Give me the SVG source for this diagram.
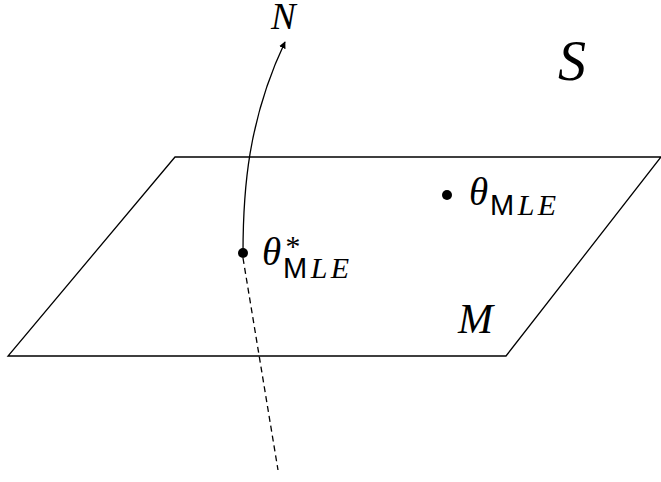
<svg xmlns="http://www.w3.org/2000/svg" width="661" height="482" viewBox="0 0 661 482">
<style>
.ln{fill:none;stroke:#000;stroke-width:1.3}
.it{font-family:"Liberation Serif","DejaVu Serif","Times New Roman",serif;font-style:italic;fill:#000}
.sf{font-family:"Liberation Sans","DejaVu Sans",Arial,sans-serif;font-style:normal;fill:#000}
.sub{letter-spacing:3.5px}
</style>
<defs>
<marker id="ah" viewBox="0 0 10 10" refX="9" refY="5" markerWidth="7" markerHeight="7" orient="auto" markerUnits="userSpaceOnUse">
<path d="M0,0 L10,5 L0,10 z" fill="#000"/>
</marker>
</defs>
<g id="plane-M">
<polygon class="ln" points="175,157 661,157 506,356 8,356"/>
<text class="it" x="458" y="333" font-size="42">M</text>
</g>
<g id="label-S">
<text class="it" x="558" y="80" font-size="56">S</text>
</g>
<g id="connectors">
<path class="ln" d="M243,253 C243,190 248,120 285,42" marker-end="url(#ah)"/>
<path class="ln" d="M243,258 L278,470" stroke-dasharray="6,4"/>
</g>
<g id="label-N">
<text class="it" x="271" y="29" font-size="37">N</text>
</g>
<g id="node-theta-star">
<circle cx="243" cy="253" r="5" fill="#000"/>
<text class="it" x="262" y="265" font-size="39">θ</text>
<text class="it" x="284" y="256" font-size="30">*</text>
<text class="sub" x="283" y="278"><tspan class="sf" font-size="29">M</tspan><tspan class="it" font-size="30">LE</tspan></text>
</g>
<g id="node-theta">
<circle cx="447" cy="195" r="5" fill="#000"/>
<text class="it" x="469" y="205" font-size="39">θ</text>
<text class="sub" x="490" y="215"><tspan class="sf" font-size="29">M</tspan><tspan class="it" font-size="30">LE</tspan></text>
</g>
</svg>
